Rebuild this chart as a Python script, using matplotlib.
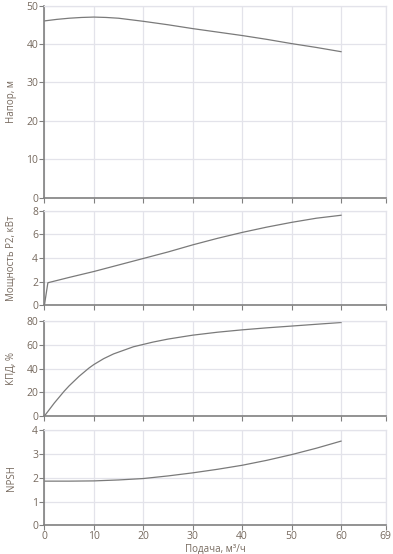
import matplotlib
matplotlib.use("Agg")
import matplotlib.pyplot as plt

plt.rcParams['font.family'] = ['Open Sans', 'DejaVu Sans']

# подача, м3/ч
q_head = [0, 2.5, 5, 7.5, 10, 12.5, 15, 17.5, 20, 25, 30, 35, 40, 45, 50, 55, 60]
head = [46.0, 46.4, 46.7, 46.9, 47.0, 46.9, 46.7, 46.3, 45.9, 45.0, 44.0, 43.1,
        42.2, 41.2, 40.1, 39.1, 38.0]

q_power = [0, 0.7, 5, 10, 15, 20, 25, 30, 35, 40, 45, 50, 55, 60]
power = [0, 1.9, 2.35, 2.85, 3.4, 3.95, 4.5, 5.1, 5.65, 6.15, 6.6, 7.0, 7.35, 7.6]

q_eff = [0, 1, 2, 3, 4, 5, 6, 7, 8, 9, 10, 12, 14, 16, 18, 20, 22, 25, 28, 30,
         35, 40, 45, 50, 55, 60]
eff = [0, 5.5, 11, 16, 21, 25.5, 29.5, 33.5, 37, 40.5, 43.5, 48.5, 52.5, 55.5,
       58.5, 60.5, 62.5, 65, 67, 68.3, 70.8, 72.8, 74.5, 76, 77.5, 79]

q_npsh = [0, 5, 10, 15, 20, 25, 30, 35, 40, 45, 50, 55, 60]
npsh = [1.86, 1.86, 1.87, 1.91, 1.97, 2.08, 2.21, 2.36, 2.53, 2.74, 2.98, 3.25, 3.55]

x_ticks = [0, 10, 20, 30, 40, 50, 60, 69]

panels = [
    (q_head, head, 'Напор, м', [0, 10, 20, 30, 40, 50], (0.643, 0.347)),
    (q_power, power, 'Мощность P2, кВт', [0, 2, 4, 6, 8], (0.449, 0.171)),
    (q_eff, eff, 'КПД, %', [0, 20, 40, 60, 80], (0.249, 0.171)),
    (q_npsh, npsh, 'NPSH', [0, 1, 2, 3, 4], (0.052, 0.171)),
]

fig = plt.figure(figsize=(3.93, 5.54), dpi=100)
grid_c = '#e3e3ea'
spine_c = '#808080'
text_c = '#76695e'

for i, (x, y, label, yt, (bot, h)) in enumerate(panels):
    ax = fig.add_axes([0.113, bot, 0.868, h])
    ax.plot(x, y, color='#7a7a7a', lw=0.9)
    ax.set_xlim(0, 69)
    ax.set_ylim(yt[0], yt[-1])
    ax.set_xticks(x_ticks)
    ax.set_yticks(yt)
    ax.grid(True, color=grid_c, lw=0.9)
    ax.set_axisbelow(True)
    for s in ['top', 'right']:
        ax.spines[s].set_color(grid_c)
        ax.spines[s].set_linewidth(0.9)
    for s in ['left', 'bottom']:
        ax.spines[s].set_color(spine_c)
        ax.spines[s].set_linewidth(1.2)
    ax.tick_params(axis='both', colors=spine_c, labelcolor=text_c,
                   labelsize=7.5, length=3.5, width=0.8, pad=1)
    if i < 3:
        ax.tick_params(axis='x', labelbottom=False)
    ax.set_ylabel(label, fontsize=7, color=text_c, labelpad=6)
    ax.yaxis.set_label_coords(-0.08, 0.5)
    if i == 3:
        ax.set_xlabel('Подача, м³/ч', fontsize=7, color=text_c, labelpad=1)

fig.savefig('out.png', dpi=100)
